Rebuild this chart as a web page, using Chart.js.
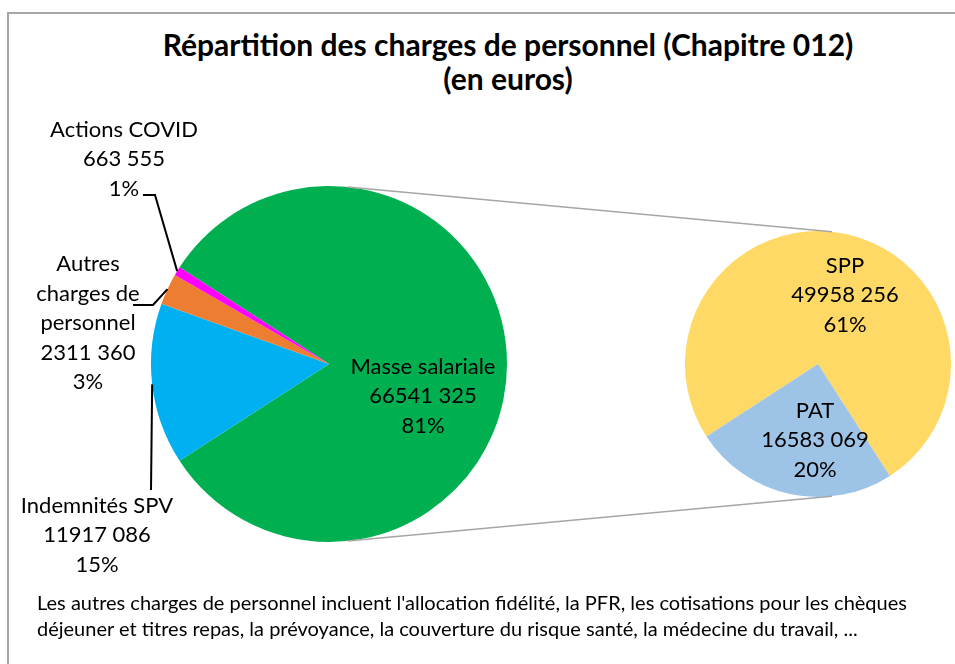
<!DOCTYPE html>
<html><head><meta charset="utf-8">
<script src="https://cdn.jsdelivr.net/npm/chart.js@4.4.1/dist/chart.umd.min.js"></script>
<style>
html,body{margin:0;padding:0;background:#fff;width:955px;height:664px;overflow:hidden;font-family:Lato,"Open Sans",sans-serif;color:#000;}
#frame{position:absolute;left:7px;top:12px;width:1000px;height:800px;border-left:2px solid #a6a6a6;border-top:2px solid #a6a6a6;}
#title{position:absolute;left:8px;width:1000px;top:27px;text-align:center;font-weight:bold;font-size:30px;line-height:34px;}
#foot{position:absolute;left:37px;top:589px;font-size:20px;line-height:26px;white-space:nowrap;}
canvas{position:absolute;left:0;top:0;}
</style></head>
<body>
<div id="frame"></div>
<div id="title">Répartition des charges de personnel (Chapitre 012)<br>(en euros)</div>
<canvas id="c1" width="955" height="664"></canvas>
<canvas id="c2" width="955" height="664"></canvas>
<div id="foot">Les autres charges de personnel incluent l'allocation fidélité, la PFR, les cotisations pour les chèques<br>déjeuner et titres repas, la prévoyance, la couverture du risque santé, la médecine du travail, ...</div>
<script>
// ---- data ----
const mainLabels = ['Masse salariale', 'Indemnités SPV', 'Autres charges de personnel', 'Actions COVID'];
const mainValues = [66541325, 11917086, 2311360, 663555];
const mainColors = ['#00B050', '#00B0F0', '#ED7D31', '#FF00FF'];
const subLabels = ['SPP', 'PAT'];
const subValues = [49958256, 16583069];
const subColors = ['#FFD966', '#9DC3E6'];
// label lines as wrapped in the picture
const mainLabelLines = [['Masse salariale'], ['Indemnités SPV'], ['Autres', 'charges de', 'personnel'], ['Actions COVID']];

// ---- layout (positions relative to pie centres) ----
const FONT = '22px Lato, "Open Sans", sans-serif';
const LH = 29.5;
const mainLabelPos = [{dx: 94, dy: 32}, {dx: -232, dy: 171}, {dx: -241, dy: -41}, {dx: -205, dy: -205}];
const mainLeaders = [null, [[-178, 126]], [[-196, -59], [-176, -59]], [[-186, -169], [-174, -169]]];
const subLabelPos = [{dx: 27, dy: -69}, {dx: -3, dy: 76}];
const CONNECT_ANGLE = 84; // degrees from horizontal

const total = mainValues.reduce((a, b) => a + b, 0);
const fmt = v => Math.floor(v / 1000) + ' ' + String(v % 1000).padStart(3, '0');
const subPct = subValues.map(v => Math.round(v / total * 100));
const mainPct = mainValues.map((v, i) => i === 0 ? subPct.reduce((a, b) => a + b, 0) : Math.round(v / total * 100));
const masseAngle = mainValues[0] / total * 360;

let chartMain;

function drawBlock(ctx, lines, x, y) {
  const y0 = y - (lines.length - 1) * LH / 2;
  lines.forEach((t, k) => ctx.fillText(t, x, y0 + k * LH));
}

const mainPlugin = {
  id: 'mainLabels',
  afterDraw(chart) {
    const ctx = chart.ctx;
    const arcs = chart.getDatasetMeta(0).data;
    const cx = arcs[0].x, cy = arcs[0].y, R = arcs[0].outerRadius;
    ctx.save();
    ctx.strokeStyle = '#000'; ctx.lineWidth = 2;
    arcs.forEach((a, i) => {
      const L = mainLeaders[i];
      if (!L) return;
      const mid = (a.startAngle + a.endAngle) / 2;
      ctx.beginPath();
      ctx.moveTo(cx + L[0][0], cy + L[0][1]);
      for (let k = 1; k < L.length; k++) ctx.lineTo(cx + L[k][0], cy + L[k][1]);
      ctx.lineTo(cx + R * Math.cos(mid), cy + R * Math.sin(mid));
      ctx.stroke();
    });
    ctx.font = FONT; ctx.fillStyle = '#000'; ctx.textAlign = 'center'; ctx.textBaseline = 'middle';
    mainLabelLines.forEach((lab, i) => {
      drawBlock(ctx, [...lab, fmt(mainValues[i]), mainPct[i] + '%'], cx + mainLabelPos[i].dx, cy + mainLabelPos[i].dy);
    });
    ctx.restore();
  }
};

const subPlugin = {
  id: 'subLabels',
  afterDraw(chart) {
    const ctx = chart.ctx;
    const arcs = chart.getDatasetMeta(0).data;
    const cx = arcs[0].x, cy = arcs[0].y, R = arcs[0].outerRadius;
    const m = chartMain.getDatasetMeta(0).data[0];
    const th = CONNECT_ANGLE * Math.PI / 180;
    ctx.save();
    ctx.strokeStyle = '#A6A6A6'; ctx.lineWidth = 1.5;
    [-1, 1].forEach(s => {
      ctx.beginPath();
      ctx.moveTo(m.x + m.outerRadius * Math.cos(th), m.y + s * m.outerRadius * Math.sin(th));
      ctx.lineTo(cx + R * Math.cos(th), cy + s * R * Math.sin(th));
      ctx.stroke();
    });
    ctx.font = FONT; ctx.fillStyle = '#000'; ctx.textAlign = 'center'; ctx.textBaseline = 'middle';
    subLabels.forEach((lab, i) => {
      drawBlock(ctx, [lab, fmt(subValues[i]), subPct[i] + '%'], cx + subLabelPos[i].dx, cy + subLabelPos[i].dy);
    });
    ctx.restore();
  }
};

const baseOpts = (pad, rot) => ({
  responsive: false, animation: false, rotation: rot,
  layout: {padding: pad},
  plugins: {legend: {display: false}, tooltip: {enabled: false}, title: {display: false}},
  elements: {arc: {borderWidth: 0}}
});

function build() {
  chartMain = new Chart(document.getElementById('c1'), {
    type: 'pie',
    data: {labels: mainLabels, datasets: [{data: mainValues, backgroundColor: mainColors, borderWidth: 0}]},
    options: baseOpts({left: 151, right: 448, top: 186, bottom: 122}, 90 - masseAngle / 2),
    plugins: [mainPlugin]
  });
  new Chart(document.getElementById('c2'), {
    type: 'pie',
    data: {labels: subLabels, datasets: [{data: subValues, backgroundColor: subColors, borderWidth: 0}]},
    options: baseOpts({left: 685, right: 4, top: 231, bottom: 167}, 237),
    plugins: [subPlugin]
  });
}
if (document.fonts && document.fonts.load) {
  Promise.all([document.fonts.load(FONT), document.fonts.load('bold 30px Lato')]).then(build, build);
} else build();
</script>
</body></html>
